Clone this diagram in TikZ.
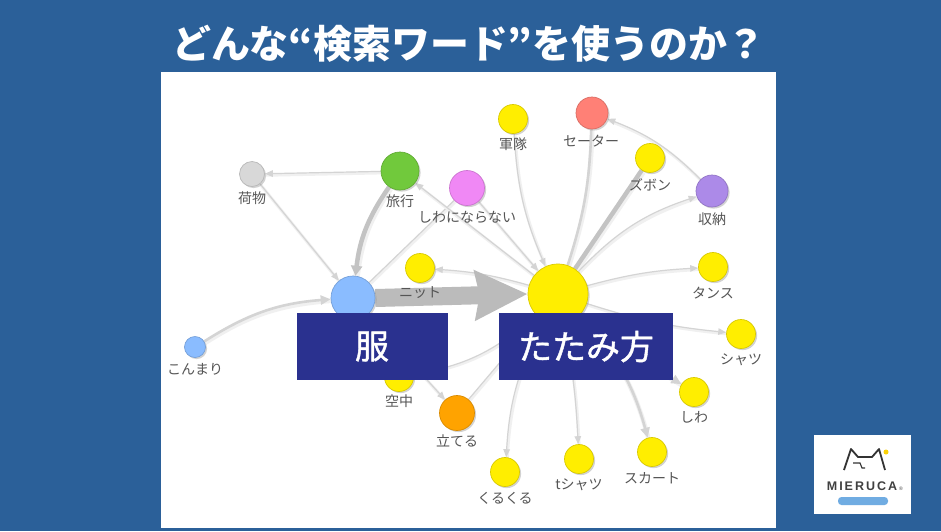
\documentclass[tikz,border=0pt]{standalone}
\usepackage{fontspec}
\usetikzlibrary{arrows.meta,shadows,backgrounds}
\newfontfamily\jpfont{Noto Sans CJK JP}
\newfontfamily\boxfont[FakeBold=1.2]{Noto Sans CJK JP}
\newfontfamily\logofont[LetterSpace=16]{Liberation Sans}
\definecolor{slidebg}{RGB}{43,96,153}
\definecolor{boxblue}{RGB}{42,49,143}
\definecolor{linkgray}{RGB}{212,212,212}
\definecolor{wordgray}{RGB}{85,85,85}
\definecolor{kwyellow}{RGB}{255,238,0}
\definecolor{kwblue}{RGB}{138,188,255}
\definecolor{kwgray}{RGB}{216,216,216}
\definecolor{kwgreen}{RGB}{113,201,60}
\definecolor{kwpink}{RGB}{240,136,245}
\definecolor{kwred}{RGB}{255,128,118}
\definecolor{kwpurple}{RGB}{172,138,232}
\definecolor{kworange}{RGB}{255,163,0}
\definecolor{pillblue}{RGB}{112,172,226}
\tikzset{
  kwnode/.style={circle,inner sep=0pt,fill=#1,draw=#1!85!black,line width=0.7pt,
    drop shadow={shadow xshift=1.6pt,shadow yshift=-1.6pt,opacity=0.35}},
  kwword/.style={font=\jpfont\fontsize{14}{14}\selectfont,text=wordgray,inner sep=0pt},
  softlink/.style={preaction={draw=black!6,-,line width=#1,transform canvas={xshift=1pt,yshift=-1.5pt}}},
  thinlink/.style={softlink=3pt,draw=linkgray,line width=1.2pt,-{Triangle[length=8pt,width=6.5pt]}},
  midlink/.style={softlink=4.5pt,draw=linkgray,line width=2.6pt,-{Triangle[length=10pt,width=9pt]}},
  thicklink/.style={softlink=6.5pt,draw=linkgray!92!black,line width=4.5pt,-{Triangle[length=10pt,width=11pt]}},
  hugelink/.style={draw=linkgray!88!black,line width=18pt,-{Stealth[length=52pt,width=48pt,inset=4pt]}},
  wordbox/.style={fill=boxblue,text=white,inner sep=0pt,minimum height=67pt,
    font=\boxfont\fontsize{34}{34}\selectfont},
}
\begin{document}
\begin{tikzpicture}[x=1pt,y=-1pt]
\useasboundingbox (0,0) rectangle (941,531);

% Title
\node[text=white,inner sep=0pt,font=\jpfont\bfseries\fontsize{38.9}{39}\selectfont] (title) at (469,44) {どんな“検索ワード”を使うのか？};

% Main words
\node[kwnode=kwyellow,minimum size=60pt] (tatami) at (558,294) {};
\node[kwnode=kwblue,minimum size=44pt] (fuku) at (353,298) {};

% Coloured words
\node[kwnode=kwblue,minimum size=21pt] (konmari) at (195,347) {};
\node[kwnode=kwgray,minimum size=25pt] (nimotsu) at (252,174) {};
\node[kwnode=kwgreen,minimum size=38pt] (ryoko) at (400,171) {};
\node[kwnode=kwpink,minimum size=35pt] (shiwanashi) at (467,188) {};
\node[kwnode=kwred,minimum size=32pt] (sweater) at (592,113) {};
\node[kwnode=kwpurple,minimum size=32pt] (shuno) at (712,191) {};
\node[kwnode=kworange,minimum size=35pt] (tateru) at (457,413) {};

% Yellow words
\foreach \nm/\px/\py in {knit/420/268,guntai/513/119,zubon/650/158,tansu/713/267,
    shatsu/741/334,shiwa/694/392,skirt/652/452,tshirt/579/459,kurukuru/505/472,kuchu/399/377} {
  \node[kwnode=kwyellow,minimum size=29pt] (\nm) at (\px,\py) {};
}

% Word labels
\foreach \nm/\px/\py/\word in {nimotsu/252/198/荷物,ryoko/400/201/旅行,shiwanashi/467/217/しわにならない,
    knit/420/293/ニット,guntai/513/144/軍隊,sweater/591/141/セーター,zubon/650/185/ズボン,
    shuno/712/219/収納,tansu/713/293/タンス,shatsu/741/360/シャツ,shiwa/694/417/しわ,
    skirt/652/478/スカート,tshirt/579/485/tシャツ,kurukuru/505/498/くるくる,tateru/457/441/立てる,
    kuchu/399/401/空中,konmari/195/369/こんまり} {
  \node[kwword] (\nm-word) at (\px,\py) {\word};
}

% Links behind the words
\begin{scope}[on background layer]
\fill[slidebg] (0,0) rectangle (941,531);
\fill[white] (161,72) rectangle (776,528);
\draw[thinlink] (ryoko) -- (nimotsu);
\draw[thinlink] (nimotsu) -- (fuku);
\draw[thicklink] (ryoko) to[bend right=14] (fuku);
\draw[thinlink,-] (fuku) -- (shiwanashi);
\draw[thinlink] (tatami) -- (ryoko);
\draw[thinlink] (shiwanashi) -- (tatami);
\draw[thinlink] (tatami) to[bend right=6] (knit);
\draw[thinlink] (guntai) to[bend right=10] (tatami);
\draw[midlink,-] (tatami) to[bend right=8] (sweater);
\draw[thicklink,-] (tatami) -- (zubon);
\draw[thinlink] (tatami) to[bend left=14] (shuno);
\draw[thinlink] (shuno) to[bend right=12] (sweater);
\draw[thinlink] (tatami) to[bend left=6] (tansu);
\draw[thinlink] (tatami) to[bend right=6] (shatsu);
\draw[midlink] (tatami) to[bend right=4] (shiwa);
\draw[midlink] (tatami) to[bend left=14] (skirt);
\draw[thinlink] (tatami) to[bend left=4] (tshirt);
\draw[thinlink] (tatami) to[bend right=12] (kurukuru);
\draw[thinlink,-] (tatami) -- (tateru);
\draw[thinlink] (fuku) -- (tateru);
\draw[thinlink] (tatami) to[bend left=16] (kuchu);
\draw[midlink] (konmari) to[bend left=14] (fuku);
\draw[hugelink] (fuku.east) -- (tatami.west);
\end{scope}

% Boxes over the graph
\node[wordbox,minimum width=151pt] (fukubox) at (372,346.5) {服};
\node[wordbox,minimum width=174pt] (tatamibox) at (586,346.5) {たたみ方};

% Logo
\fill[white] (814,435) rectangle (911,514);
\draw[line width=1.8pt,line join=round,black!80] (844,470) -- (851,449) -- (858,457) -- (872,457) -- (879,449) -- (885,470);
\draw[line width=1.1pt,black!80] (853,463) -- (860,463) -- (862,468) -- (865,468);
\fill[yellow!70!orange] (886,452) circle (2.5pt);
\node[inner sep=0pt,text=black!75,font=\logofont\bfseries\fontsize{12.5}{13}\selectfont] (mieruca) at (862,486) {MIERUCA};
\node[inner sep=0pt,text=black!75,font=\logofont\fontsize{5}{5}\selectfont] (regmark) at (901,489) {®};
\fill[pillblue,rounded corners=3.5pt] (838,497) rectangle (888,505);
\end{tikzpicture}
\end{document}
